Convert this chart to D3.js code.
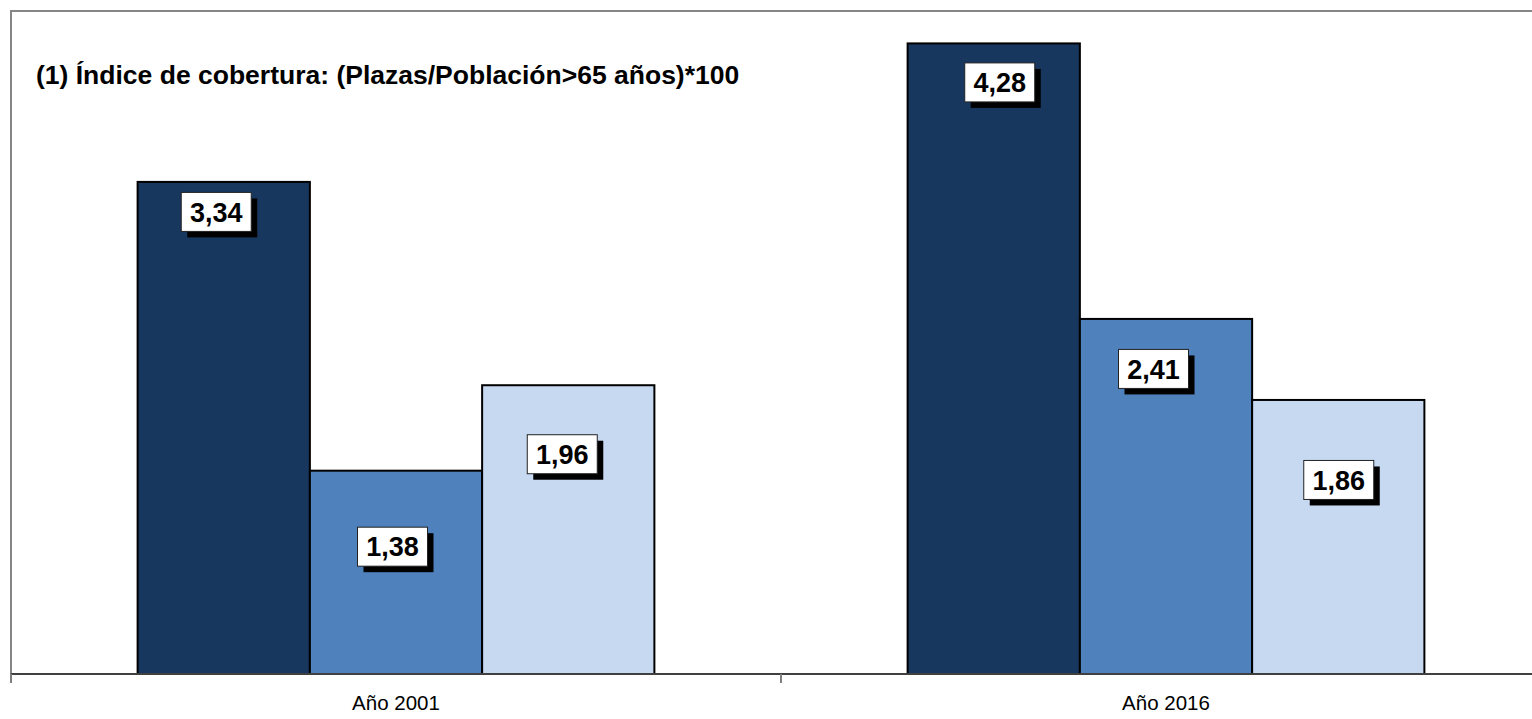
<!DOCTYPE html>
<html>
<head>
<meta charset="utf-8">
<script src="https://cdn.jsdelivr.net/npm/d3@7"></script>
<style>
  body { margin: 0; background: #fff; overflow: hidden; }
  svg { display: block; font-family: "Liberation Sans", Arial, sans-serif; }
</style>
</head>
<body>
<div id="vis"></div>
<script>
// data
var years = ['Año 2001', 'Año 2016'];
var series = ['Serie 1', 'Serie 2', 'Serie 3'];
var values2001 = [3.34, 1.38, 1.96];
var values2016 = [4.28, 2.41, 1.86];
var yTicks = [0, 4.5];
var title = '(1) Índice de cobertura: (Plazas/Población>65 años)*100';

// manual label placement (px offset from bar top centre), like in the original sheet
var labelOffsets = [
  [[-7.5, 30], [-3.5, 76], [-6, 69]],
  [[6, 39], [-12.5, 50], [0.5, 80]]
];

var width = 1532;
var height = 719;
var colors = ['#17375e', '#4f81bd', '#c6d9f1'];

var plot = { left: 11, top: 11, right: 1551, bottom: 674 };

var rows = years.map(function (y, i) {
  var vals = i === 0 ? values2001 : values2016;
  return { year: y, values: vals.map(function (v, j) {
    return { series: series[j], value: v, idx: j, offset: labelOffsets[i][j] };
  }) };
});

var svg = d3.select('#vis').append('svg')
  .attr('width', width)
  .attr('height', height);

var x0 = d3.scaleBand().domain(years).range([plot.left, plot.right]).padding(0);
var x1 = d3.scaleBand().domain(series).range([0, x0.bandwidth()])
  .paddingInner(0).paddingOuter(0.735);
var y = d3.scaleLinear().domain(d3.extent(yTicks)).range([plot.bottom, plot.top]);

// plot area border (gray)
svg.append('rect')
  .attr('x', plot.left)
  .attr('y', plot.top)
  .attr('width', plot.right - plot.left)
  .attr('height', plot.bottom - plot.top)
  .attr('fill', 'none')
  .attr('stroke', '#868686')
  .attr('stroke-width', 2);

// title
svg.append('text')
  .attr('x', 36)
  .attr('y', 84)
  .attr('font-size', 26.5)
  .attr('font-weight', 'bold')
  .text(title);

// bars
var groups = svg.selectAll('.group').data(rows).enter().append('g')
  .attr('class', 'group')
  .attr('transform', function (d) { return 'translate(' + x0(d.year) + ',0)'; });

groups.selectAll('rect.bar').data(function (d) { return d.values; }).enter().append('rect')
  .attr('class', 'bar')
  .attr('x', function (d) { return x1(d.series); })
  .attr('y', function (d) { return y(d.value); })
  .attr('width', x1.bandwidth())
  .attr('height', function (d) { return y(0) - y(d.value); })
  .attr('fill', function (d) { return colors[d.idx]; })
  .attr('stroke', '#000')
  .attr('stroke-width', 2);

// x axis
var xAxis = svg.append('g')
  .attr('transform', 'translate(0,' + plot.bottom + ')');
xAxis.append('line')
  .attr('x1', plot.left).attr('x2', plot.right)
  .attr('stroke', '#404040').attr('stroke-width', 2);
xAxis.selectAll('.tick').data(years).enter().append('line')
  .attr('x1', function (d) { return x0(d); })
  .attr('x2', function (d) { return x0(d); })
  .attr('y1', 0).attr('y2', 9)
  .attr('stroke', '#808080').attr('stroke-width', 2);
xAxis.selectAll('.lbl').data(years).enter().append('text')
  .attr('x', function (d) { return x0(d) + x0.bandwidth() / 2; })
  .attr('y', 36)
  .attr('text-anchor', 'middle')
  .attr('font-size', 20.5)
  .text(function (d) { return d; });

// data labels
var labels = groups.selectAll('g.label').data(function (d) { return d.values; }).enter().append('g')
  .attr('class', 'label')
  .attr('transform', function (d) {
    var cx = x1(d.series) + x1.bandwidth() / 2 + d.offset[0];
    var cy = y(d.value) + d.offset[1];
    return 'translate(' + cx + ',' + cy + ')';
  });

var boxW = 70, boxH = 39;
labels.append('rect')
  .attr('x', -boxW / 2 + 6).attr('y', -boxH / 2 + 6)
  .attr('width', boxW).attr('height', boxH)
  .attr('fill', '#000');
labels.append('rect')
  .attr('x', -boxW / 2).attr('y', -boxH / 2)
  .attr('width', boxW).attr('height', boxH)
  .attr('fill', '#fff')
  .attr('stroke', '#222')
  .attr('stroke-width', 1);
labels.append('text')
  .attr('text-anchor', 'middle')
  .attr('dy', '0.36em')
  .attr('font-size', 27)
  .attr('font-weight', 'bold')
  .text(function (d) { return d3.format('.2f')(d.value).replace('.', ','); });
</script>
</body>
</html>
